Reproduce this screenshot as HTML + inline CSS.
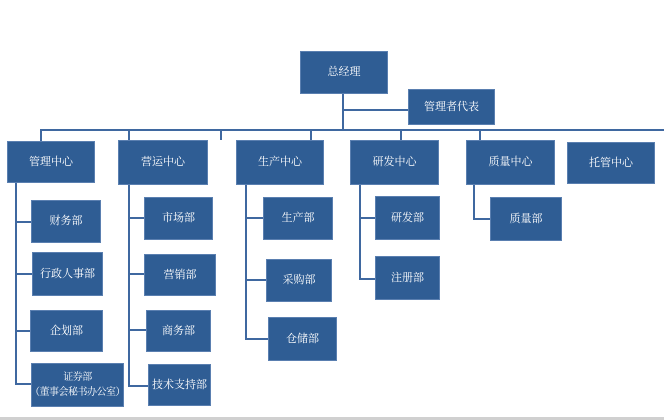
<!DOCTYPE html><html><head><meta charset="utf-8"><style>
body{margin:0;width:664px;height:420px;background:#fff;position:relative;overflow:hidden;font-family:"Liberation Serif","Noto Serif CJK SC",serif}
.b{position:absolute;background:#2f5d94;border:1px solid #5a7fb0;box-sizing:border-box;color:#fff;font-size:11px;display:flex;align-items:center;justify-content:center;text-align:center;line-height:15px;white-space:nowrap}
.l{position:absolute;background:#3f68a0}
</style></head><body>
<div class="l" style="left:342px;top:94px;width:2px;height:37px"></div>
<div class="l" style="left:343px;top:109px;width:66px;height:2px"></div>
<div class="l" style="left:40px;top:129px;width:624px;height:2px"></div>
<div class="l" style="left:40px;top:130px;width:2px;height:11px"></div>
<div class="l" style="left:128px;top:130px;width:2px;height:10px"></div>
<div class="l" style="left:220px;top:130px;width:2px;height:10px"></div>
<div class="l" style="left:310px;top:130px;width:2px;height:10px"></div>
<div class="l" style="left:400px;top:130px;width:2px;height:10px"></div>
<div class="l" style="left:479px;top:130px;width:2px;height:12px"></div>

<div class="l" style="left:15px;top:183px;width:2px;height:202px"></div>
<div class="l" style="left:15px;top:221px;width:16px;height:2px"></div>
<div class="l" style="left:15px;top:273px;width:17px;height:2px"></div>
<div class="l" style="left:15px;top:330px;width:15px;height:2px"></div>
<div class="l" style="left:15px;top:383px;width:16px;height:2px"></div>

<div class="l" style="left:128px;top:185px;width:2px;height:202px"></div>
<div class="l" style="left:128px;top:217px;width:16px;height:2px"></div>
<div class="l" style="left:128px;top:273px;width:16px;height:2px"></div>
<div class="l" style="left:128px;top:329px;width:18px;height:2px"></div>
<div class="l" style="left:128px;top:385px;width:20px;height:2px"></div>

<div class="l" style="left:245px;top:185px;width:2px;height:155px"></div>
<div class="l" style="left:245px;top:217px;width:18px;height:2px"></div>
<div class="l" style="left:245px;top:279px;width:21px;height:2px"></div>
<div class="l" style="left:245px;top:338px;width:23px;height:2px"></div>

<div class="l" style="left:359px;top:185px;width:2px;height:95px"></div>
<div class="l" style="left:359px;top:217px;width:16px;height:2px"></div>
<div class="l" style="left:359px;top:278px;width:16px;height:2px"></div>

<div class="l" style="left:473px;top:185px;width:2px;height:35px"></div>
<div class="l" style="left:473px;top:218px;width:17px;height:2px"></div>

<div class="b" style="left:300px;top:51px;width:88px;height:43px">总经理</div>
<div class="b" style="left:408px;top:89px;width:87px;height:36px">管理者代表</div>
<div class="b" style="left:7px;top:141px;width:88px;height:42px">管理中心</div>
<div class="b" style="left:118px;top:140px;width:90px;height:45px">营运中心</div>
<div class="b" style="left:236px;top:140px;width:88px;height:45px">生产中心</div>
<div class="b" style="left:350px;top:140px;width:89px;height:45px">研发中心</div>
<div class="b" style="left:466px;top:140px;width:89px;height:45px">质量中心</div>
<div class="b" style="left:567px;top:142px;width:88px;height:42px">托管中心</div>

<div class="b" style="left:31px;top:200px;width:70px;height:43px">财务部</div>
<div class="b" style="left:32px;top:252px;width:71px;height:44px">行政人事部</div>
<div class="b" style="left:30px;top:310px;width:73px;height:42px">企划部</div>
<div class="b" style="left:31px;top:363px;width:93px;height:44px;font-size:10px;letter-spacing:-0.5px">证券部<br>（董事会秘书办公室）</div>

<div class="b" style="left:144px;top:197px;width:69px;height:43px">市场部</div>
<div class="b" style="left:144px;top:254px;width:72px;height:42px">营销部</div>
<div class="b" style="left:146px;top:310px;width:65px;height:42px">商务部</div>
<div class="b" style="left:148px;top:364px;width:63px;height:42px">技术支持部</div>

<div class="b" style="left:263px;top:197px;width:70px;height:43px">生产部</div>
<div class="b" style="left:266px;top:259px;width:66px;height:43px">采购部</div>
<div class="b" style="left:268px;top:317px;width:69px;height:44px">仓储部</div>

<div class="b" style="left:375px;top:196px;width:65px;height:44px">研发部</div>
<div class="b" style="left:375px;top:256px;width:65px;height:44px">注册部</div>

<div class="b" style="left:490px;top:197px;width:72px;height:44px">质量部</div>

<div style="position:absolute;left:0;top:417px;width:664px;height:3px;background:#d0d0d0"></div>
</body></html>
